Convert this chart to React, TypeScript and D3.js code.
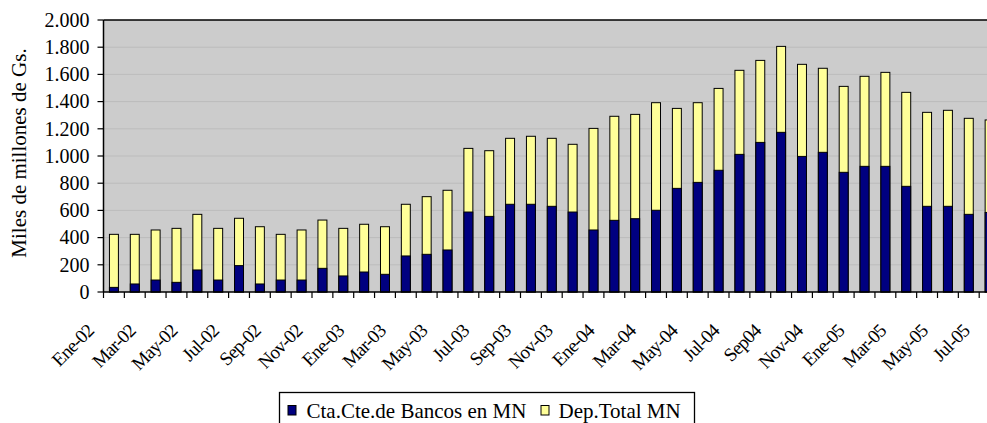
import React, { useEffect, useRef } from "react";
import * as d3 from "d3";

// Ene-02 .. Jul-05
const months = [
  "Ene-02", "Feb-02", "Mar-02", "Abr-02", "May-02", "Jun-02", "Jul-02", "Ago-02", "Sep-02", "Oct-02", "Nov-02", "Dic-02",
  "Ene-03", "Feb-03", "Mar-03", "Abr-03", "May-03", "Jun-03", "Jul-03", "Ago-03", "Sep-03", "Oct-03", "Nov-03", "Dic-03",
  "Ene-04", "Feb-04", "Mar-04", "Abr-04", "May-04", "Jun-04", "Jul-04", "Ago-04", "Sep04", "Oct-04", "Nov-04", "Dic-04",
  "Ene-05", "Feb-05", "Mar-05", "Abr-05", "May-05", "Jun-05", "Jul-05",
];

const ctaCteBancos = [
  34, 59, 88, 71, 162, 88, 194, 59, 88, 88, 174, 118,
  147, 130, 265, 277, 309, 588, 556, 645, 645, 630, 588, 456,
  527, 539, 601, 762, 806, 895, 1012, 1100, 1174, 997, 1027, 880,
  924, 924, 777, 630, 630, 571, 585,
];

const depTotal = [
  424, 424, 456, 468, 571, 468, 542, 480, 424, 456, 529, 468,
  498, 480, 645, 701, 748, 1056, 1039, 1130, 1145, 1130, 1086, 1203,
  1292, 1306, 1392, 1350, 1392, 1497, 1630, 1703, 1806, 1674, 1645, 1512,
  1586, 1615, 1468, 1321, 1336, 1277, 1265,
];

const yTicks = [0, 200, 400, 600, 800, 1000, 1200, 1400, 1600, 1800, 2000];

const seriesNames = ["Cta.Cte.de Bancos en MN", "Dep.Total MN"];
const seriesColors = ["#000080", "#ffff99"];

const W = 987;
const H = 423;
const FONT = "Liberation Serif, Times New Roman, DejaVu Serif, serif";

export default function App() {
  const ref = useRef<SVGSVGElement>(null);

  useEffect(() => {
    const svg = d3.select(ref.current);
    svg.selectAll("*").remove();

    const left = 103.5;
    const top = 20;
    const bottom = 292;
    const step = 20.85;
    const right = left + step * months.length;

    const x = d3.scaleBand<number>()
      .domain(months.map((_, i) => i))
      .range([left, right])
      .paddingInner(0.57)
      .paddingOuter(0.285);

    const y = d3.scaleLinear().domain([0, 2000]).range([bottom, top]);

    const loc = d3.formatLocale({ decimal: ",", thousands: ".", grouping: [3], currency: ["", ""] });
    const fmt = loc.format(",d");

    // plot background + grid
    svg.append("rect")
      .attr("x", left).attr("y", top)
      .attr("width", right - left).attr("height", bottom - top)
      .attr("fill", "#cccccc");

    svg.append("g")
      .selectAll("line")
      .data(yTicks.slice(1, -1))
      .enter()
      .append("line")
      .attr("x1", left).attr("x2", right)
      .attr("y1", d => y(d)).attr("y2", d => y(d))
      .attr("stroke", "#bcbcbc")
      .attr("stroke-width", 1);

    svg.append("line")
      .attr("x1", left).attr("x2", right)
      .attr("y1", top).attr("y2", top)
      .attr("stroke", "#000").attr("stroke-width", 1.5);

    // stacked bars: total (yellow) then bank accounts (navy)
    const bars = svg.append("g");
    bars.selectAll(".tot")
      .data(depTotal)
      .enter()
      .append("rect")
      .attr("x", (_, i) => x(i)!)
      .attr("width", x.bandwidth())
      .attr("y", d => y(d))
      .attr("height", d => bottom - y(d))
      .attr("fill", seriesColors[1])
      .attr("stroke", "#000")
      .attr("stroke-width", 1);

    bars.selectAll(".cta")
      .data(ctaCteBancos)
      .enter()
      .append("rect")
      .attr("x", (_, i) => x(i)!)
      .attr("width", x.bandwidth())
      .attr("y", d => y(d))
      .attr("height", d => bottom - y(d))
      .attr("fill", seriesColors[0])
      .attr("stroke", "#000")
      .attr("stroke-width", 1);

    // y axis
    const yAxis = svg.append("g").attr("transform", `translate(${left},0)`);
    yAxis.append("line")
      .attr("x1", 0).attr("x2", 0).attr("y1", top).attr("y2", bottom)
      .attr("stroke", "#000").attr("stroke-width", 1.5);
    yAxis.selectAll(".yt")
      .data(yTicks)
      .enter()
      .append("line")
      .attr("x1", -6).attr("x2", 0)
      .attr("y1", d => y(d)).attr("y2", d => y(d))
      .attr("stroke", "#000").attr("stroke-width", 1.2);
    yAxis.selectAll("text")
      .data(yTicks)
      .enter()
      .append("text")
      .attr("x", -14)
      .attr("y", d => y(d))
      .attr("dy", "0.34em")
      .attr("text-anchor", "end")
      .style("font-family", FONT)
      .style("font-size", "20px")
      .attr("fill", "#000")
      .text(d => fmt(d));

    svg.append("text")
      .attr("transform", `translate(26,${(top + bottom) / 2 - 3}) rotate(-90)`)
      .attr("text-anchor", "middle")
      .style("font-family", FONT)
      .style("font-size", "21px")
      .text("Miles de millones de Gs.");

    // x axis
    const xAxis = svg.append("g");
    xAxis.append("line")
      .attr("x1", left).attr("x2", right)
      .attr("y1", bottom).attr("y2", bottom)
      .attr("stroke", "#000").attr("stroke-width", 1.5);
    xAxis.selectAll(".xt")
      .data(d3.range(months.length + 1))
      .enter()
      .append("line")
      .attr("x1", i => left + i * step).attr("x2", i => left + i * step)
      .attr("y1", bottom).attr("y2", bottom + 6)
      .attr("stroke", "#000").attr("stroke-width", 1.2);
    xAxis.selectAll("text")
      .data(months.map((m, i) => ({ m, i })).filter(d => d.i % 2 === 0))
      .enter()
      .append("text")
      .attr("transform", d => `translate(${x(d.i)! + x.bandwidth() / 2 - 19},332) rotate(-45)`)
      .attr("text-anchor", "end")
      .style("font-family", FONT)
      .style("font-size", "19px")
      .style("letter-spacing", "-0.8px")
      .text(d => d.m);

    // legend
    const lg = svg.append("g");
    lg.append("rect")
      .attr("x", 279.5).attr("y", 392.5)
      .attr("width", 415).attr("height", 40)
      .attr("fill", "#fff").attr("stroke", "#000").attr("stroke-width", 1.3);
    const items = [
      { name: seriesNames[0], color: seriesColors[0], mx: 288, tx: 306.5 },
      { name: seriesNames[1], color: seriesColors[1], mx: 541, tx: 558.5 },
    ];
    items.forEach(it => {
      lg.append("rect")
        .attr("x", it.mx).attr("y", 405.5)
        .attr("width", 8).attr("height", 9.5)
        .attr("fill", it.color).attr("stroke", "#000").attr("stroke-width", 1);
      lg.append("text")
        .attr("x", it.tx).attr("y", 417.5)
        .style("font-family", FONT)
        .style("font-size", "21px")
        .text(it.name);
    });
  }, []);

  return (
    <svg
      ref={ref}
      width={W}
      height={H}
      style={{ position: "absolute", left: 0, top: 0, background: "#fff" }}
    />
  );
}
